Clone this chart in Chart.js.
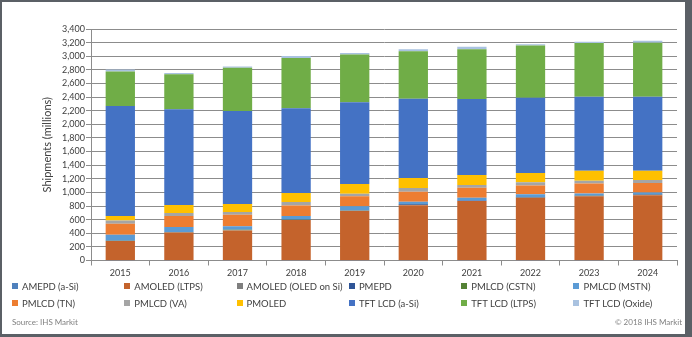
<!DOCTYPE html>
<html>
<head>
<meta charset="utf-8">
<script src="https://cdn.jsdelivr.net/npm/chart.js@4.4.0/dist/chart.umd.min.js"></script>
<style>
  body { margin: 0; width: 692px; height: 337px; overflow: hidden; position: relative; background: #5b6066; font-family: Lato, "Open Sans", sans-serif; }
  #frame { position: absolute; left: 2px; top: 2px; width: 683px; height: 332px; background: #fff; }
  #chart { position: absolute; left: 0; top: 0; }
  #legend { position: absolute; left: 12px; top: 280px; display: grid; grid-template-columns: repeat(6, 112.3px); row-gap: 5px; font-size: 9.5px; color: #404040; }
  .item { display: flex; align-items: center; height: 12px; white-space: nowrap; }
  .box { width: 6px; height: 6px; margin-right: 4px; flex: none; }
  .note { position: absolute; top: 317px; font-size: 8px; color: #808080; }
</style>
</head>
<body>
<div id="frame"></div>
<canvas id="chart" width="692" height="337"></canvas>
<div id="legend"></div>
<div class="note" style="left:12px">Source: IHS Markit</div>
<div class="note" style="right:10px">© 2018 IHS Markit</div>
<script>
"use strict";
// shipments in millions
var years = ['2015', '2016', '2017', '2018', '2019', '2020', '2021', '2022', '2023', '2024'];

var amepdASi     = [2, 2, 2, 3, 3, 3, 3, 3, 3, 3];
var amoledLtps   = [285, 410, 440, 590, 725, 810, 870, 918, 940, 955];
var amoledOledSi = [1, 1, 1, 1, 1, 2, 2, 2, 2, 3];
var pmepd        = [3, 3, 3, 3, 4, 12, 5, 5, 5, 10];
var pmlcdCstn    = [4, 4, 4, 4, 4, 4, 3, 3, 3, 3];
var pmlcdMstn    = [85, 73, 52, 52, 58, 31, 40, 42, 30, 26];
var pmlcdTn      = [160, 160, 170, 155, 150, 149, 145, 127, 147, 137];
var pmlcdVa      = [47, 44, 39, 50, 37, 52, 42, 50, 42, 45];
var pmoled       = [66, 118, 118, 134, 140, 148, 145, 135, 145, 135];
var tftASi       = [1615, 1407, 1366, 1245, 1204, 1164, 1117, 1105, 1088, 1088];
var tftLtps      = [509, 515, 635, 736, 701, 697, 731, 768, 790, 792];
var tftOxide     = [30, 18, 20, 30, 20, 29, 35, 17, 17, 31];

var seriesNames = ['AMEPD (a-Si)', 'AMOLED (LTPS)', 'AMOLED (OLED on Si)', 'PMEPD', 'PMLCD (CSTN)', 'PMLCD (MSTN)',
                   'PMLCD (TN)', 'PMLCD (VA)', 'PMOLED', 'TFT LCD (a-Si)', 'TFT LCD (LTPS)', 'TFT LCD (Oxide)'];
var seriesData = [amepdASi, amoledLtps, amoledOledSi, pmepd, pmlcdCstn, pmlcdMstn,
                  pmlcdTn, pmlcdVa, pmoled, tftASi, tftLtps, tftOxide];
var seriesColors = ['#4f81bd', '#c4632c', '#7f7f7f', '#2f5597', '#548235', '#5b9bd5',
                    '#ed7d31', '#a5a5a5', '#ffc000', '#4472c4', '#70ad47', '#a9c2e0'];

var yTicks = { min: 0, max: 3400, step: 200 };

function buildDatasets() {
  return seriesNames.map(function (name, i) {
    return {
      label: name,
      data: seriesData[i],
      backgroundColor: seriesColors[i],
      borderWidth: 0,
      categoryPercentage: 1,
      barPercentage: 0.5
    };
  });
}

function buildLegend() {
  var el = document.getElementById('legend');
  seriesNames.forEach(function (name, i) {
    var item = document.createElement('div');
    item.className = 'item';
    var box = document.createElement('span');
    box.className = 'box';
    box.style.background = seriesColors[i];
    var txt = document.createElement('span');
    txt.textContent = name;
    item.appendChild(box);
    item.appendChild(txt);
    el.appendChild(item);
  });
}

var gridColor = '#8c8c8c';
var tickFont = { family: 'Lato', size: 9 };

new Chart(document.getElementById('chart').getContext('2d'), {
  type: 'bar',
  data: { labels: years, datasets: buildDatasets() },
  options: {
    responsive: false,
    animation: false,
    devicePixelRatio: 1,
    layout: { padding: { top: 29, right: 15, left: 0, bottom: 0 } },
    plugins: { legend: { display: false }, tooltip: { enabled: false } },
    scales: {
      x: {
        stacked: true,
        grid: { drawOnChartArea: false, tickLength: 5, color: gridColor, offset: true },
        border: { color: gridColor },
        ticks: { color: '#404040', font: tickFont, padding: 2, maxRotation: 0 },
        afterFit: function (s) { s.height = 76.5; }
      },
      y: {
        stacked: true,
        min: yTicks.min,
        max: yTicks.max,
        ticks: {
          stepSize: yTicks.step,
          autoSkip: false,
          color: '#404040',
          font: tickFont,
          padding: 1,
          callback: function (v) { return v.toLocaleString('en-US'); }
        },
        grid: { color: gridColor, tickLength: 5 },
        border: { color: gridColor },
        title: { display: true, text: 'Shipments (millions)', color: '#404040', font: { family: 'Lato', size: 11 }, padding: { top: 41 } },
        afterFit: function (s) { s.width = 91; }
      }
    }
  }
});

buildLegend();
</script>
</body>
</html>
